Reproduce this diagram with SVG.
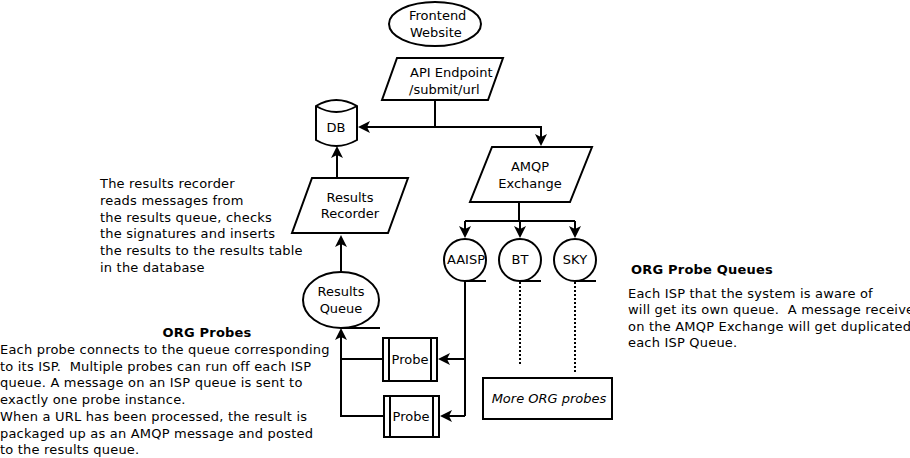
<svg xmlns="http://www.w3.org/2000/svg" width="910" height="458" viewBox="0 0 910 458">
<defs>
<marker id="arr" markerUnits="userSpaceOnUse" markerWidth="14" markerHeight="14" viewBox="-1 -7 14 14" refX="3" refY="0" orient="auto">
<path d="M0,-6 L12,0 L0,6 L3,0 Z" fill="#000"/>
</marker>
</defs>
<style>
.s{fill:#fff;stroke:#000;stroke-width:2}
.l{fill:none;stroke:#000;stroke-width:2}
.d{fill:none;stroke:#000;stroke-width:2;stroke-dasharray:2,2}
text{font-family:"DejaVu Sans","Liberation Sans",sans-serif;font-size:13px;fill:#000}
.c{text-anchor:middle}
.b{font-weight:bold}
.n text{letter-spacing:0.2px}
</style>
<rect width="910" height="458" fill="#fff"/>
<g id="connectors">
<path class="l" d="M435,100 V127"/>
<path class="l" d="M435,127 H367" marker-end="url(#arr)"/>
<path class="l" d="M435,127 H541 V137" marker-end="url(#arr)"/>
<path class="l" d="M519,202 V221"/>
<path class="l" d="M465,221 H575"/>
<path class="l" d="M465,221 V229" marker-end="url(#arr)"/>
<path class="l" d="M520,221 V229" marker-end="url(#arr)"/>
<path class="l" d="M575,221 V229" marker-end="url(#arr)"/>
<path class="l" d="M465,281 V416"/>
<path class="l" d="M465,359 H447" marker-end="url(#arr)"/>
<path class="l" d="M465,416 H449" marker-end="url(#arr)"/>
<path class="l" d="M383,359 H341"/>
<path class="l" d="M384,416 H341 V337" marker-end="url(#arr)"/>
<path class="l" d="M341,272 V244" marker-end="url(#arr)"/>
<path class="l" d="M337,178 V155" marker-end="url(#arr)"/>
<path class="d" d="M520,282 V365"/>
<path class="d" d="M575,282 V372"/>
</g>
<g id="frontend">
<ellipse class="s" cx="435" cy="24" rx="46" ry="22"/>
<text x="409" y="20">Frontend</text>
<text x="410" y="37">Website</text>
</g>
<g id="api">
<polygon class="s" points="397,58 503,58 488,100 382,100"/>
<text x="410" y="77">API Endpoint</text>
<text x="409" y="94">/submit/url</text>
</g>
<g id="db">
<path class="s" d="M316,106 Q336,94 357,106 V140 Q336,152 316,140 Z"/>
<path class="l" d="M316,106 Q336,118 357,106"/>
<text class="c" x="336" y="132">DB</text>
</g>
<g id="amqp">
<polygon class="s" points="492,147 592,147 570,202 470,202"/>
<text class="c" x="530" y="171">AMQP</text>
<text class="c" x="530" y="188">Exchange</text>
</g>
<g id="recorder">
<polygon class="s" points="312,178 408,178 388,233 292,233"/>
<text class="c" x="350" y="202">Results</text>
<text class="c" x="350" y="218">Recorder</text>
</g>
<g id="results-queue">
<ellipse class="s" cx="341" cy="300" rx="38" ry="28"/>
<path class="l" d="M341,328 H380"/>
<text class="c" x="341" y="296">Results</text>
<text class="c" x="341" y="313">Queue</text>
</g>
<g id="aaisp">
<circle class="s" cx="465" cy="260" r="21"/>
<path class="l" d="M465,281 H486"/>
<text class="c" x="466" y="264">AAISP</text>
</g>
<g id="bt">
<circle class="s" cx="520" cy="260" r="21"/>
<path class="l" d="M520,281 H541"/>
<text class="c" x="520" y="264">BT</text>
</g>
<g id="sky">
<circle class="s" cx="575" cy="260" r="21"/>
<path class="l" d="M575,281 H596"/>
<text class="c" x="575" y="264">SKY</text>
</g>
<g id="probe1">
<rect class="s" x="383" y="338" width="54" height="43"/>
<path class="l" d="M389,338 V381 M431,338 V381"/>
<text class="c" x="410" y="364">Probe</text>
</g>
<g id="probe2">
<rect class="s" x="384" y="396" width="55" height="41"/>
<path class="l" d="M390,396 V437 M433,396 V437"/>
<text class="c" x="411" y="421">Probe</text>
</g>
<g id="more-probes">
<rect class="s" x="483" y="378" width="129" height="41"/>
<text class="c" x="549" y="403" font-style="italic">More ORG probes</text>
</g>
<g id="recorder-note" class="n">
<text x="100" y="188">The results recorder</text>
<text x="100" y="204.8">reads messages from</text>
<text x="100" y="221.6">the results queue, checks</text>
<text x="100" y="238.4">the signatures and inserts</text>
<text x="100" y="255.2">the results to the results table</text>
<text x="100" y="272">in the database</text>
</g>
<g id="probes-note" class="n">
<text class="c b" x="207" y="337">ORG Probes</text>
<text x="0" y="354">Each probe connects to the queue corresponding</text>
<text x="0" y="370.7" xml:space="preserve">to its ISP.  Multiple probes can run off each ISP</text>
<text x="0" y="387.4">queue. A message on an ISP queue is sent to</text>
<text x="0" y="404.1">exactly one probe instance.</text>
<text x="0" y="420.8">When a URL has been processed, the result is</text>
<text x="0" y="437.5">packaged up as an AMQP message and posted</text>
<text x="0" y="454.2">to the results queue.</text>
</g>
<g id="queues-note" class="n">
<text class="b" x="631" y="273.5">ORG Probe Queues</text>
<text x="628" y="297.5" xml:space="preserve">Each ISP that the system is aware of</text>
<text x="628" y="314" xml:space="preserve">will get its own queue.  A message receive</text>
<text x="628" y="330.5">on the AMQP Exchange will get duplicated</text>
<text x="628" y="347">each ISP Queue.</text>
</g>
</svg>
